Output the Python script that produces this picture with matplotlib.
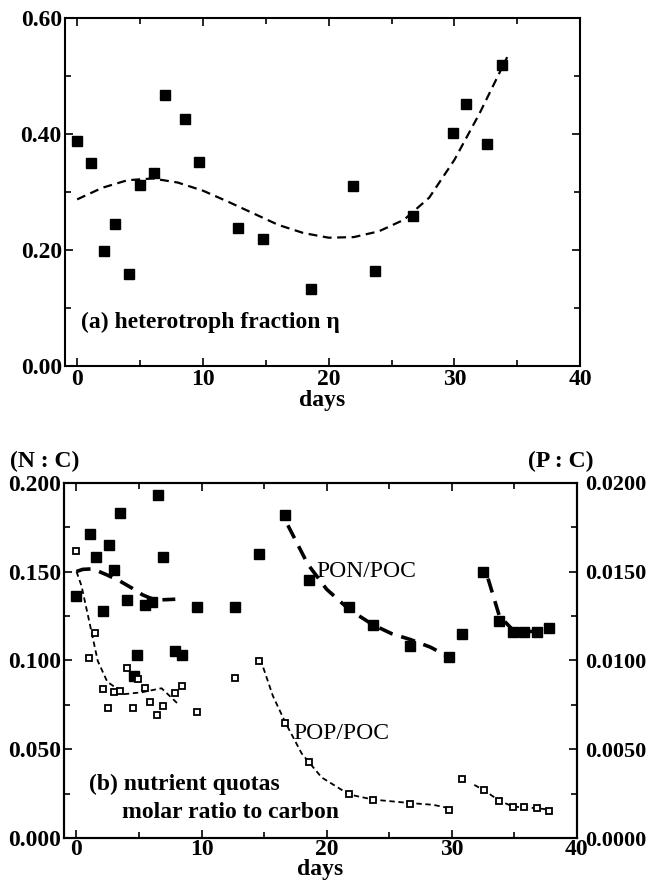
import matplotlib
matplotlib.use("Agg")
import matplotlib.pyplot as plt
from matplotlib.ticker import MultipleLocator, FormatStrFormatter

plt.rcParams['font.family'] = ['Liberation Serif', 'DejaVu Serif']

# (a) heterotroph fraction
eta_days = [0.0, 1.1, 2.1, 3.0, 4.1, 5.0, 6.1, 7.0, 8.6, 9.7, 12.8, 14.8,
            18.6, 21.9, 23.7, 26.7, 29.9, 30.9, 32.6, 33.8]
eta = [0.388, 0.350, 0.198, 0.245, 0.158, 0.311, 0.332, 0.466, 0.425, 0.352,
       0.238, 0.218, 0.133, 0.310, 0.163, 0.258, 0.402, 0.452, 0.383, 0.519]
eta_fit_days = [0, 2, 4, 6, 8, 10, 12, 14, 16, 18, 20, 22, 24, 26, 28, 30, 32, 34.2]
eta_fit = [0.287, 0.307, 0.320, 0.323, 0.316, 0.302, 0.283, 0.263, 0.243, 0.229,
           0.221, 0.222, 0.232, 0.252, 0.290, 0.355, 0.435, 0.532]

# (b) PON/POC (left axis, N:C)
pon_days = [0.0, 1.1, 1.6, 2.1, 2.6, 3.0, 3.5, 4.0, 4.6, 4.8, 5.5, 6.0, 6.5, 6.9,
            7.9, 8.4, 9.6, 12.7, 14.6, 16.7, 18.6, 21.8, 23.7, 26.7, 29.8,
            30.8, 32.5, 33.8, 34.9, 35.8, 36.8, 37.8]
pon = [0.136, 0.171, 0.158, 0.128, 0.165, 0.151, 0.183, 0.134, 0.091, 0.103,
       0.131, 0.133, 0.193, 0.158, 0.105, 0.103, 0.130, 0.130, 0.160, 0.182,
       0.145, 0.130, 0.120, 0.108, 0.102, 0.115, 0.150, 0.122, 0.116, 0.116,
       0.116, 0.118]
pon_fit1_days = [0.0, 0.5, 1.3, 2.4, 3.4, 4.5, 5.3, 6.3, 7.9]
pon_fit1 = [0.150, 0.1512, 0.1515, 0.1482, 0.1449, 0.1404, 0.1368, 0.1339, 0.1344]
pon_fit2_days = [16.9, 18.5, 20.0, 21.8, 23.7, 25.2, 26.7, 28.3, 30.0]
pon_fit2 = [0.176, 0.154, 0.140, 0.1286, 0.120, 0.115, 0.1117, 0.1074, 0.101]
pon_fit3_days = [32.9, 33.8, 34.9, 35.8, 36.8, 38.0]
pon_fit3 = [0.146, 0.125, 0.117, 0.116, 0.1165, 0.1194]

# (b) POP/POC (right axis, P:C)
pop_days = [0.0, 1.0, 1.5, 2.1, 2.5, 3.0, 3.5, 4.0, 4.5, 4.9, 5.5, 5.9, 6.4,
            6.9, 7.9, 8.4, 9.6, 12.7, 14.6, 16.7, 18.6, 21.8, 23.7, 26.7, 29.8,
            30.8, 32.6, 33.8, 34.9, 35.8, 36.8, 37.8]
pop = [0.01614, 0.01014, 0.01154, 0.00839, 0.00734, 0.00823, 0.00827, 0.00957,
       0.00730, 0.00896, 0.00846, 0.00768, 0.00693, 0.00744, 0.00819, 0.00858,
       0.00709, 0.00903, 0.00998, 0.00650, 0.00428, 0.00245, 0.00216, 0.00193,
       0.00158, 0.00332, 0.00268, 0.00206, 0.00174, 0.00176, 0.00168, 0.00154]
pop_fit1_days = [0.0, 0.4, 1.05, 1.7, 2.46, 3.85, 5.2, 6.8, 8.1]
pop_fit1 = [0.0150, 0.0142, 0.0121, 0.00997, 0.0088, 0.0081, 0.0082, 0.00843, 0.00756]
pop_fit2_days = [14.7, 15.7, 16.7, 18.0, 19.6, 21.8, 23.75, 26.65, 28.5, 29.8]
pop_fit2 = [0.01007, 0.0080, 0.0065, 0.00476, 0.00341, 0.00245, 0.00216,
            0.00197, 0.00187, 0.00168]
pop_fit3_days = [31.8, 32.6, 33.8, 34.9, 36.8, 38.0]
pop_fit3 = [0.00299, 0.00268, 0.0021, 0.00177, 0.00168, 0.00158]

FS = 17

fig = plt.figure(figsize=(6.46, 8.84), dpi=100)

# ---- panel (a)
ax1 = fig.add_axes([0.100, 0.586, 0.798, 0.394])
ax1.plot(eta_fit_days, eta_fit, color='black', lw=1.6, dashes=(4, 2.5))
ax1.plot(eta_days, eta, 's', color='black', ms=6.5)
ax1.set_xlim(-1, 40)
ax1.set_ylim(0, 0.6)
ax1.xaxis.set_major_locator(MultipleLocator(10))
ax1.xaxis.set_minor_locator(MultipleLocator(5))
ax1.yaxis.set_major_locator(MultipleLocator(0.2))
ax1.yaxis.set_minor_locator(MultipleLocator(0.1))
ax1.yaxis.set_major_formatter(FormatStrFormatter('%.2f'))
ax1.set_xlabel('days', fontsize=FS, fontweight='bold', labelpad=0)
ax1.text(0.3, 0.065, '(a) heterotroph fraction η', fontsize=FS, fontweight='bold')

# ---- panel (b)
ax2 = fig.add_axes([0.099, 0.052, 0.794, 0.402])
ax2.plot(pon_fit1_days, pon_fit1, color='black', lw=2.6, dashes=(4, 2.5))
ax2.plot(pon_fit2_days, pon_fit2, color='black', lw=2.6, dashes=(4, 2.5))
ax2.plot(pon_fit3_days, pon_fit3, color='black', lw=2.6, dashes=(4, 2.5))
ax2.plot(pon_days, pon, 's', color='black', ms=6.5)
ax2.set_xlim(-1, 40)
ax2.set_ylim(0, 0.2)
ax2.xaxis.set_major_locator(MultipleLocator(10))
ax2.xaxis.set_minor_locator(MultipleLocator(5))
ax2.yaxis.set_major_locator(MultipleLocator(0.05))
ax2.yaxis.set_minor_locator(MultipleLocator(0.025))
ax2.yaxis.set_major_formatter(FormatStrFormatter('%.3f'))
ax2.set_xlabel('days', fontsize=FS, fontweight='bold', labelpad=-1)
ax2.text(-0.105, 1.045, '(N : C)', fontsize=FS, fontweight='bold',
         transform=ax2.transAxes)
ax2.text(19.2, 0.147, 'PON/POC', fontsize=FS)
ax2.text(1.0, 0.027, '(b) nutrient quotas', fontsize=FS, fontweight='bold')
ax2.text(3.6, 0.011, 'molar ratio to carbon', fontsize=FS, fontweight='bold')

ax3 = ax2.twinx()
ax3.plot(pop_fit1_days, pop_fit1, color='black', lw=1.3, dashes=(3, 2))
ax3.plot(pop_fit2_days, pop_fit2, color='black', lw=1.3, dashes=(3, 2))
ax3.plot(pop_fit3_days, pop_fit3, color='black', lw=1.3, dashes=(3, 2))
ax3.plot(pop_days, pop, 's', mfc='white', mec='black', mew=1.3, ms=5)
ax3.set_ylim(0, 0.02)
ax3.yaxis.set_major_locator(MultipleLocator(0.005))
ax3.yaxis.set_minor_locator(MultipleLocator(0.0025))
ax3.yaxis.set_major_formatter(FormatStrFormatter('%.4f'))
ax3.text(0.905, 1.045, '(P : C)', fontsize=FS, fontweight='bold',
         transform=ax3.transAxes)

ax3.text(17.3, 0.0056, 'POP/POC', fontsize=FS)

for ax in (ax1, ax2):
    ax.tick_params(which='both', direction='in', top=True, right=(ax is ax1),
                   labelsize=FS, pad=2)
    ax.tick_params(which='major', length=6, width=1.2)
    ax.tick_params(which='minor', length=4, width=1.2)
    for lab in ax.get_xticklabels() + ax.get_yticklabels():
        lab.set_fontweight('bold')
ax2.tick_params(axis='x', pad=1)
ax3.tick_params(which='both', direction='in', labelsize=16, pad=6)
ax3.tick_params(which='major', length=6, width=1.2)
ax3.tick_params(which='minor', length=4, width=1.2)
for lab in ax3.get_yticklabels():
    lab.set_fontweight('bold')
for ax in (ax1, ax2, ax3):
    for s in ax.spines.values():
        s.set_linewidth(1.5)

fig.savefig('out.png', dpi=100)
